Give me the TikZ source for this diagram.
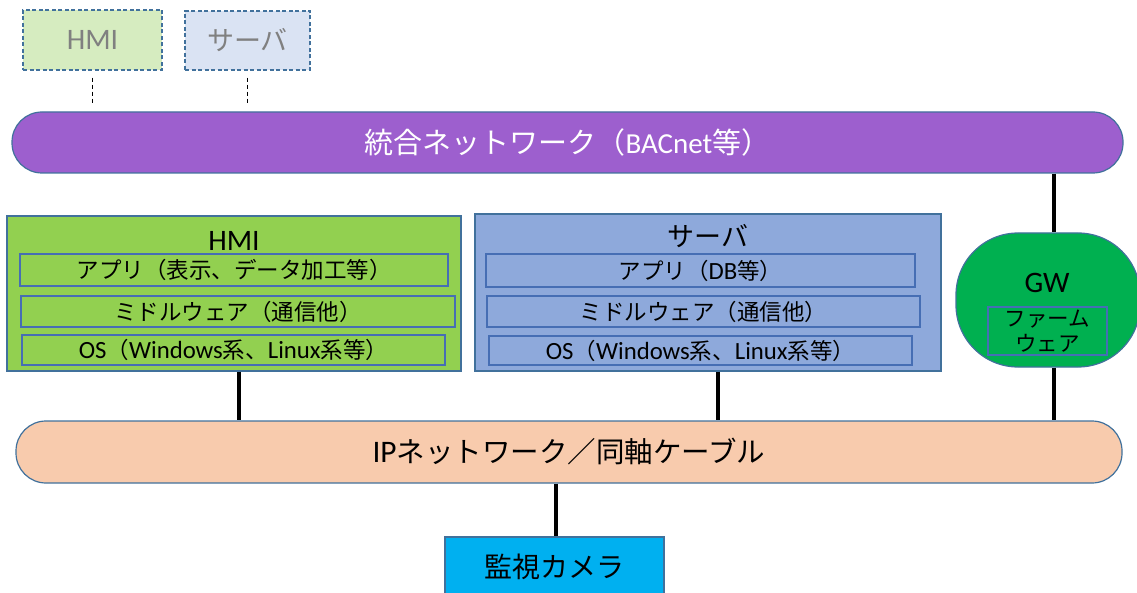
\documentclass[tikz,border=0pt]{standalone}
\usepackage{fontspec}
\setmainfont{Carlito}
\newfontfamily\jp{Noto Sans CJK JP}
\newfontfamily\latf[Scale=1.1]{Carlito}
\newcommand{\lat}[1]{{\latf #1}}
\definecolor{bord}{RGB}{65,113,156}
\definecolor{ibord}{RGB}{70,110,180}
\definecolor{purp}{RGB}{157,95,206}
\definecolor{hmiG}{RGB}{146,208,80}
\definecolor{srvB}{RGB}{142,169,219}
\definecolor{gwG}{RGB}{0,176,80}
\definecolor{ipO}{RGB}{248,203,173}
\definecolor{camB}{RGB}{0,176,240}
\definecolor{lgreen}{RGB}{214,236,192}
\definecolor{lblue}{RGB}{218,227,243}
\definecolor{gtext}{RGB}{128,128,128}
\tikzset{
  box/.style={draw=bord, line width=1.2pt, inner sep=0pt, anchor=center},
  ibox/.style={draw=ibord, line width=1.2pt, inner sep=0pt, anchor=center, font=\jp\fontsize{22.5}{25}\selectfont},
  dbox/.style={draw=bord, line width=1.2pt, dash pattern=on 4pt off 2.5pt, inner sep=0pt, text=gtext, font=\jp\fontsize{27}{30}\selectfont},
  dline/.style={line width=1.2pt, dash pattern=on 4pt off 3pt, shorten <=7pt, shorten >=7pt},
  conn/.style={line width=4pt},
  bar/.style={box, rounded corners=30pt},
  ttl/.style={inner sep=0pt, font=\jp\fontsize{27}{30}\selectfont},
}
\begin{document}
\begin{tikzpicture}[x=1pt,y=-1pt]
\useasboundingbox (0,0) rectangle (1137,593);
% top dashed boxes
\node[dbox, fill=lgreen, minimum width=139, minimum height=60] (thmi) at (92.5,40) {\lat{HMI}};
\node[dbox, fill=lblue, minimum width=125, minimum height=59] (tsrv) at (247.5,40.5) {サーバ};
% integrated network
\node[bar, fill=purp, minimum width=1111, minimum height=61, text=white, font=\jp\fontsize{29}{32}\selectfont] (net) at (567.5,142.5) {統合ネットワーク（{\rmfamily BACnet}等）};
\draw[dline] (thmi.south) -- (thmi.south |- net.north);
\draw[dline] (tsrv.south) -- (tsrv.south |- net.north);
% HMI
\node[box, fill=hmiG, minimum width=454, minimum height=155] (hmi) at (234,293.5) {};
\node[ttl] (hmit) at (234,241) {\lat{HMI}};
\node[ibox, minimum width=428, minimum height=32] (happ) at (234,270) {アプリ（表示、データ加工等）};
\node[ibox, minimum width=434, minimum height=31] (hmid) at (238,311.5) {ミドルウェア（通信他）};
\node[ibox, minimum width=423, minimum height=30] (hos) at (233.5,350) {\lat{OS}（\lat{Windows}系、\lat{Linux}系等）};
% Server
\node[box, fill=srvB, minimum width=466, minimum height=157] (srv) at (708,292.5) {};
\node[ttl] (srvt) at (708,236) {サーバ};
\node[ibox, minimum width=429, minimum height=33] (sapp) at (700.5,270.5) {アプリ（\lat{DB}等）};
\node[ibox, minimum width=433, minimum height=31] (smid) at (703.5,311.5) {ミドルウェア（通信他）};
\node[ibox, minimum width=423, minimum height=29] (sos) at (700.5,350.5) {\lat{OS}（\lat{Windows}系、\lat{Linux}系等）};
% GW
\node[box, fill=gwG, minimum width=184, minimum height=134, rounded corners=62pt] (gw) at (1048,300) {};
\node[ttl] (gwt) at (1047,283) {\lat{GW}};
\node[ibox, minimum width=119, minimum height=48, align=center, font=\jp\fontsize{21.5}{25}\selectfont] (fw) at (1047.5,331) {ファーム\\ウェア};
% IP network
\node[bar, fill=ipO, minimum width=1106, minimum height=62, font=\jp\fontsize{28.5}{30}\selectfont] (ip) at (569,452) {\lat{IP}ネットワーク／同軸ケーブル};
% camera
\node[box, fill=camB, minimum width=219, minimum height=60, font=\jp\fontsize{28}{30}\selectfont] (cam) at (554.5,567) {監視カメラ};
% connectors
\coordinate (xh) at (239,0);
\coordinate (xs) at (718,0);
\coordinate (xg) at (1054,0);
\coordinate (xc) at (556,0);
\draw[conn] (net.south -| xg) -- (gw.north -| xg);
\draw[conn] (hmi.south -| xh) -- (ip.north -| xh);
\draw[conn] (srv.south -| xs) -- (ip.north -| xs);
\draw[conn] (gw.south -| xg) -- (ip.north -| xg);
\draw[conn] (ip.south -| xc) -- (cam.north -| xc);
\end{tikzpicture}
\end{document}
